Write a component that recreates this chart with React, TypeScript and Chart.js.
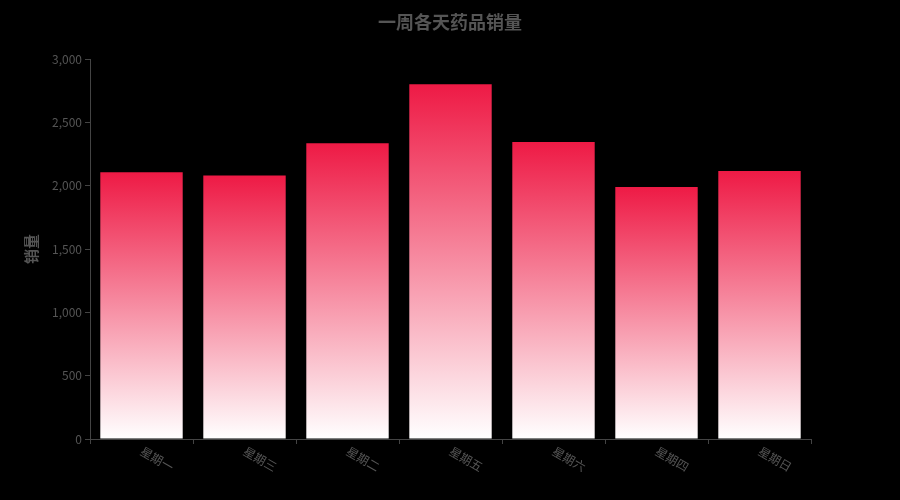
import { useEffect, useRef } from 'react'
import { Chart, registerables } from 'chart.js'

Chart.register(...registerables)

const days = ['星期一', '星期三', '星期二', '星期五', '星期六', '星期四', '星期日']
const sales = [2105, 2080, 2335, 2800, 2345, 1990, 2115]
const chartTitle = '一周各天药品销量'
const yTitle = '销量'

const FONT = '"Noto Sans CJK SC", "Noto Sans", sans-serif'

// title centred on the whole canvas, x labels rotated clockwise from each category centre
const extras = {
  id: 'extras',
  afterDraw(chart: any) {
    const { ctx, scales } = chart
    const x = scales.x
    ctx.save()
    ctx.fillStyle = '#555'
    ctx.font = `bold 18px ${FONT}`
    ctx.textAlign = 'center'
    ctx.textBaseline = 'middle'
    ctx.fillText(chartTitle, chart.width / 2, 22)

    ctx.font = `12px ${FONT}`
    ctx.textAlign = 'left'
    days.forEach((d, i) => {
      const px = x.getPixelForValue(i)
      ctx.save()
      ctx.translate(px, x.top + 11)
      ctx.rotate(Math.PI / 6)
      ctx.fillText(d, 0, 0)
      ctx.restore()
    })
    ctx.restore()
  }
}

export default function App() {
  const canvasRef = useRef<HTMLCanvasElement>(null)

  useEffect(() => {
    if (!canvasRef.current) return
    const chart = new Chart(canvasRef.current, {
      type: 'bar',
      data: {
        labels: days,
        datasets: [
          {
            label: yTitle,
            data: sales,
            categoryPercentage: 1,
            barPercentage: 0.8,
            borderWidth: 0,
            backgroundColor: (c: any) => {
              const ch = c.chart
              if (!ch.chartArea) return '#ee1a45'
              const ys = ch.scales.y
              const top = ys.getPixelForValue(c.raw ?? 0)
              const bottom = ys.getPixelForValue(0)
              const g = ch.ctx.createLinearGradient(0, top, 0, bottom)
              g.addColorStop(0, '#ee1a45')
              g.addColorStop(1, '#ffffff')
              return g
            }
          }
        ]
      },
      options: {
        animation: false,
        responsive: false,
        layout: { padding: { left: 0, right: 89, top: 59, bottom: 0 } },
        plugins: {
          legend: { display: false },
          tooltip: { enabled: false },
          title: { display: false }
        },
        scales: {
          x: {
            afterFit: (s: any) => { s.height = 61 },
            grid: { display: true, drawOnChartArea: false, color: '#444', tickLength: 5, offset: true },
            border: { color: '#444' },
            ticks: { display: false }
          },
          y: {
            min: 0,
            max: 3000,
            afterFit: (s: any) => { s.width = 90 },
            grid: { display: true, drawOnChartArea: false, color: '#444', tickLength: 5 },
            border: { color: '#444' },
            ticks: {
              stepSize: 500,
              color: '#555',
              padding: 3,
              font: { family: FONT, size: 12 }
            },
            title: {
              display: true,
              text: yTitle,
              color: '#555',
              font: { family: FONT, size: 15, weight: 'bold' },
              padding: { top: 22, bottom: 0 }
            }
          }
        }
      },
      plugins: [extras]
    })
    return () => chart.destroy()
  }, [])

  return (
    <div style={{ position: 'fixed', left: 0, top: 0, width: 900, height: 500, background: '#000' }}>
      <canvas ref={canvasRef} width={900} height={500} style={{ width: 900, height: 500 }}></canvas>
    </div>
  )
}
